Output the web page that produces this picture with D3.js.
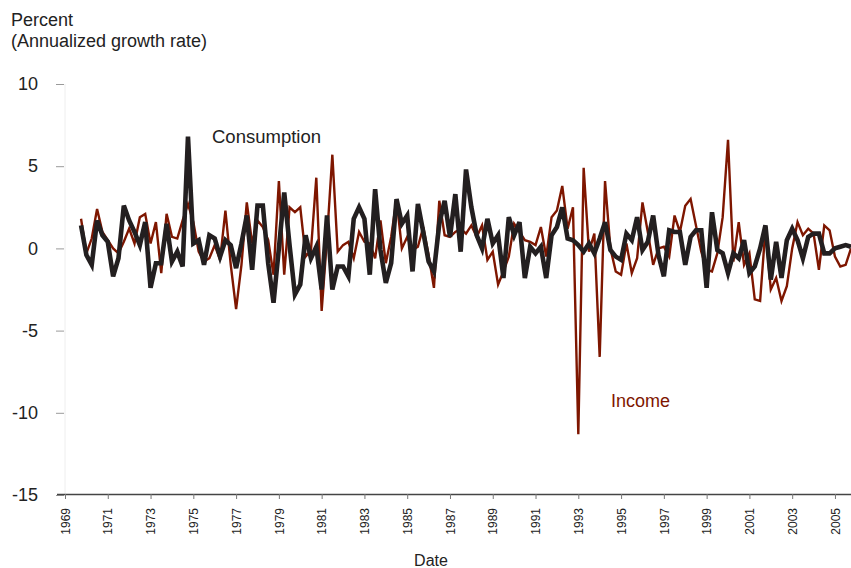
<!DOCTYPE html>
<html>
<head>
<meta charset="utf-8">
<script src="https://cdn.jsdelivr.net/npm/d3@7"></script>
<style>
  html, body { margin: 0; padding: 0; background: #fff; }
  svg { display: block; font-family: "Liberation Sans", Arial, Helvetica, sans-serif; }
</style>
</head>
<body>
<svg id="chart" width="851" height="568"></svg>
<script>
// Quarterly series, first observation 1969 Q4
const startYear = 1969;
const startQuarter = 4;

const consumption = [
  1.4, -0.4, -1.0, 1.7, 0.8, 0.4, -1.7, -0.6, 2.6, 1.7,
  1.0, 0.2, 1.6, -2.4, -0.9, -0.9, 1.5, -0.8, -0.2, -1.1,
  6.8, 0.3, 0.5, -1.0, 0.8, 0.6, -0.5, 0.5, 0.2, -1.2,
  0.3, 2.0, -1.3, 2.6, 2.6, -0.9, -3.3, 0.0, 3.4, 0.2,
  -2.8, -2.2, 0.8, -0.6, 0.1, -2.5, 2.0, -2.5, -1.1, -1.1,
  -1.7, 1.8, 2.5, 1.8, -1.6, 3.6, -0.1, -2.1, -0.9, 3.0,
  1.5, 2.0, -1.4, 2.7, 1.0, -0.8, -1.4, 1.5, 2.9, 0.7,
  3.3, -0.2, 4.8, 2.5, 0.8, 0.0, 1.8, 0.3, 0.8, -1.8,
  1.9, 0.8, 1.6, -1.8, 0.1, -0.3, 0.1, -1.8, 0.8, 1.3,
  2.5, 0.6, 0.5, 0.2, -0.2, 0.3, -0.3, 0.6, 1.6, -0.1,
  -0.5, -0.7, 0.9, 0.5, 1.9, -0.1, 0.4, 2.0, -0.4, -1.7,
  1.1, 1.0, 1.0, -1.0, 0.7, 1.1, 1.1, -2.4, 2.2, -0.1,
  -0.3, -1.5, -0.3, -0.6, 0.5, -1.5, -1.1, 0.0, 1.4, -1.9,
  0.4, -1.8, 0.5, 1.2, 0.5, -0.6, 0.7, 0.9, 0.9, -0.3,
  -0.3, 0.0, 0.1, 0.2, 0.1
];

const income = [
  1.8, -0.3, 0.6, 2.4, 1.0, 0.5, 0.0, -0.3, 0.4, 1.2,
  0.3, 1.9, 2.1, 0.3, 1.6, -1.5, 2.1, 0.7, 0.6, 1.7,
  2.7, 1.6, -0.2, -0.8, -0.6, 0.2, -0.7, 2.3, -1.0, -3.7,
  -1.0, 2.8, 0.3, 1.7, 1.3, 0.5, -1.6, 4.1, -1.6, 2.5,
  2.2, 2.5, -0.5, -0.1, 4.3, -3.8, 0.6, 5.7, -0.2, 0.2,
  0.4, -0.6, 1.0, 0.4, 0.3, -0.6, 1.7, -0.9, 0.7, 3.0,
  0.0, 0.7, -0.1, 0.1, 1.3, -0.4, -2.4, 2.9, 0.8, 0.7,
  1.0, 1.2, 0.9, 1.4, 0.7, 1.4, -0.7, -0.2, -2.2, -1.4,
  -0.5, 1.5, 1.0, 0.5, 0.4, 0.2, 1.3, -0.5, 1.9, 2.3,
  3.8, 1.2, 2.5, -11.3, 4.9, -0.2, 0.9, -6.6, 4.1, 0.0,
  -1.4, -1.6, 0.3, -1.5, -0.6, 2.8, 1.0, -1.0, 0.0, 0.1,
  -0.5, 2.0, 1.0, 2.6, 3.0, 1.4, -0.2, -1.3, -1.4, -0.3,
  1.9, 6.6, -0.8, 1.6, -1.0, -0.3, -3.1, -3.2, 1.2, -2.5,
  -1.8, -3.2, -2.3, 0.0, 1.6, 0.8, 1.2, 0.9, -1.3, 1.4,
  1.1, -0.5, -1.1, -1.0, 0.0
];

const yTicks = [10, 5, 0, -5, -10, -15];
const yTickLabels = ["10", "5", "0", "-5", "-10", "-15"];
const xTickLabels = ["1969", "1971", "1973", "1975", "1977", "1979", "1981", "1983",
  "1985", "1987", "1989", "1991", "1993", "1995", "1997", "1999", "2001", "2003", "2005"];

const seriesNames = ["Consumption", "Income"];
const titleLines = ["Percent", "(Annualized growth rate)"];
const xTitle = "Date";

// time of each observation as decimal year
const times = consumption.map((d, i) => startYear + (startQuarter - 1) / 4 + i / 4);

const svg = d3.select("#chart");

const x = d3.scaleLinear().domain([1969, 2005.75]).range([65, 851]);
const y = d3.scaleLinear().domain([-15, 10]).range([495, 84]);

// faint vertical guide at left of plot
svg.append("line")
  .attr("x1", x(1969)).attr("x2", x(1969))
  .attr("y1", y(10)).attr("y2", y(-15))
  .attr("stroke", "#eeeeee").attr("stroke-width", 1);

// y axis
const yAxis = d3.axisLeft(y).tickValues(yTicks).tickSize(8).tickPadding(18)
  .tickFormat((d, i) => yTickLabels[i]);
const gy = svg.append("g").attr("transform", `translate(${x(1969) - 1},0)`).call(yAxis);
gy.select(".domain").remove();
gy.selectAll(".tick line").attr("stroke", "#9a9a9a").attr("stroke-width", 1);
gy.selectAll(".tick text").attr("fill", "#222").style("font-size", "18px")
  .style("font-family", "'Liberation Sans', Arial, sans-serif");

// x axis
const xAxis = d3.axisBottom(x).tickValues(xTickLabels.map(Number)).tickSize(5)
  .tickFormat((d, i) => xTickLabels[i]);
const gx = svg.append("g").attr("transform", `translate(0,${y(-15) - 1})`).call(xAxis);
gx.select(".domain").attr("d", `M57,0.5H851`).attr("stroke", "#444").attr("stroke-width", 1.5);
gx.selectAll(".tick line").attr("stroke", "#777");
gx.selectAll(".tick text")
  .attr("fill", "#222")
  .style("font-size", "12px")
  .style("font-family", "'Liberation Sans', Arial, sans-serif")
  .attr("text-anchor", "end")
  .attr("transform", "rotate(-90)")
  .attr("x", -14)
  .attr("y", 0)
  .attr("dy", "0.35em");

// lines
const line = d3.line().x((d, i) => x(times[i])).y(d => y(d));

svg.append("path").datum(income)
  .attr("fill", "none").attr("stroke", "#7e1600").attr("stroke-width", 2.4)
  .attr("d", line);

svg.append("path").datum(consumption)
  .attr("fill", "none").attr("stroke", "#231f20").attr("stroke-width", 4.6)
  .attr("d", line);

// series labels
svg.append("text").attr("x", 212).attr("y", 143)
  .attr("fill", "#222").style("font-size", "18.5px").text(seriesNames[0]);
svg.append("text").attr("x", 611).attr("y", 407)
  .attr("fill", "#7e1600").style("font-size", "18px").text(seriesNames[1]);

// y title
svg.append("text").attr("x", 11).attr("y", 26)
  .attr("fill", "#222").style("font-size", "18px").text(titleLines[0]);
svg.append("text").attr("x", 11).attr("y", 47)
  .attr("fill", "#222").style("font-size", "18px").text(titleLines[1]);

// x title
svg.append("text").attr("x", 431).attr("y", 566).attr("text-anchor", "middle")
  .attr("fill", "#222").style("font-size", "16px").text(xTitle);
</script>
</body>
</html>
